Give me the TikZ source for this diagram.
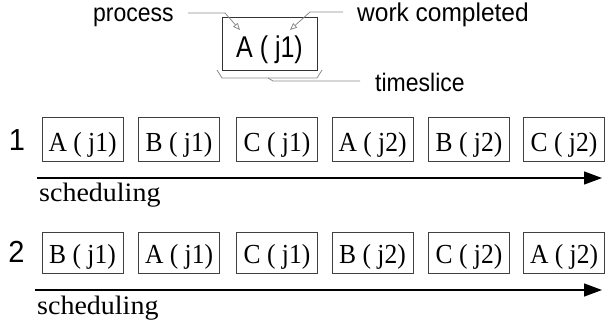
\documentclass[tikz,border=0pt]{standalone}
\usepackage{fontspec}
\setmainfont{Liberation Serif}
\newfontfamily\arialf{Liberation Sans}
\usetikzlibrary{arrows.meta}
\newcommand{\vsc}[2]{\scalebox{1}[#1]{#2}}
\begin{document}
\begin{tikzpicture}[x=1pt,y=-1pt,
  lbl/.style={font=\arialf\fontsize{23}{26}\selectfont, inner sep=0pt, anchor=base west},
  topbox/.style={draw=black!80, line width=1pt, minimum width=95pt, inner sep=0pt, text height=40pt, text depth=13pt, anchor=base, font=\arialf\fontsize{25}{28}\selectfont},
  slot/.style={draw=black!75, line width=1pt, minimum width=81pt, inner sep=0pt, text depth=10pt, anchor=base, font=\fontsize{25.5}{28}\selectfont},
  rownum/.style={font=\arialf\fontsize{29}{32}\selectfont, inner sep=0pt, anchor=base},
  sched/.style={font=\fontsize{28}{30}\selectfont, inner sep=0pt, anchor=base west},
  note/.style={draw=black!45, line width=0.8pt},
  notearrow/.style={note, -{Triangle[open, length=7pt, width=6pt]}},
  axis/.style={draw=black, line width=1.3pt, -{Triangle[length=18pt, width=13pt]}}
]
\useasboundingbox (0,0) rectangle (605,322);

% legend
\node[topbox] (tb) at (269.5,57) {\vsc{1.2}{A ( j1)}};
\draw[black!80, line width=1.8pt] (tb.north east) -- (tb.south east) -- (tb.south west);
\node[lbl] (proc) at (93,21) {\vsc{1.1}{process}};
\node[lbl, font=\arialf\fontsize{24.5}{27}\selectfont] (work) at (357,21) {\vsc{1.05}{work completed}};
\node[lbl] (tsl) at (375,91) {\vsc{1.1}{timeslice}};

\coordinate (pa) at (188,13);
\coordinate (pb) at (225,13);
\coordinate (pc) at (240,30);
\draw[notearrow] (pa) -- (pb) -- (pc);
\coordinate (wa) at (343,12);
\coordinate (wb) at (310,12);
\coordinate (wc) at (290,30);
\draw[notearrow] (wa) -- (wb) -- (wc);
\coordinate (t1) at (217,70);
\coordinate (t2) at (222,78);
\coordinate (t3) at (317,78);
\coordinate (t4) at (322,70);
\draw[note] (t1) -- (t2) -- (t3) -- (t4);
\coordinate (t5) at (268,78);
\coordinate (t6) at (273,81);
\coordinate (t7) at (360,81);
\draw[note] (t5) -- (t6) -- (t7);

% row 1
\node[rownum] (n1) at (17,150) {\vsc{1.05}{1}};
\foreach \x/\t [count=\i] in {82.5/A ( j1), 179/B ( j1), 277/C ( j1), 372.5/A ( j2), 469/B ( j2), 564/C ( j2)}
  \node[slot, text height=34pt] (r1s\i) at (\x,151) {\vsc{1.08}{\t}};
\coordinate (a1s) at (37,178);
\coordinate (a1e) at (602,178);
\draw[axis] (a1s) -- (a1e);
\node[sched] (s1) at (39,201) {\vsc{0.95}{scheduling}};

% row 2
\node[rownum] (n2) at (16.5,262) {\vsc{1.05}{2}};
\foreach \x/\t [count=\i] in {82.5/B ( j1), 179/A ( j1), 277/C ( j1), 372.5/B ( j2), 469/C ( j2), 564/A ( j2)}
  \node[slot, text height=31pt] (r2s\i) at (\x,263) {\vsc{1.08}{\t}};
\coordinate (a2s) at (35,290);
\coordinate (a2e) at (602,290);
\draw[axis] (a2s) -- (a2e);
\node[sched] (s2) at (37,314) {\vsc{0.95}{scheduling}};
\end{tikzpicture}
\end{document}
